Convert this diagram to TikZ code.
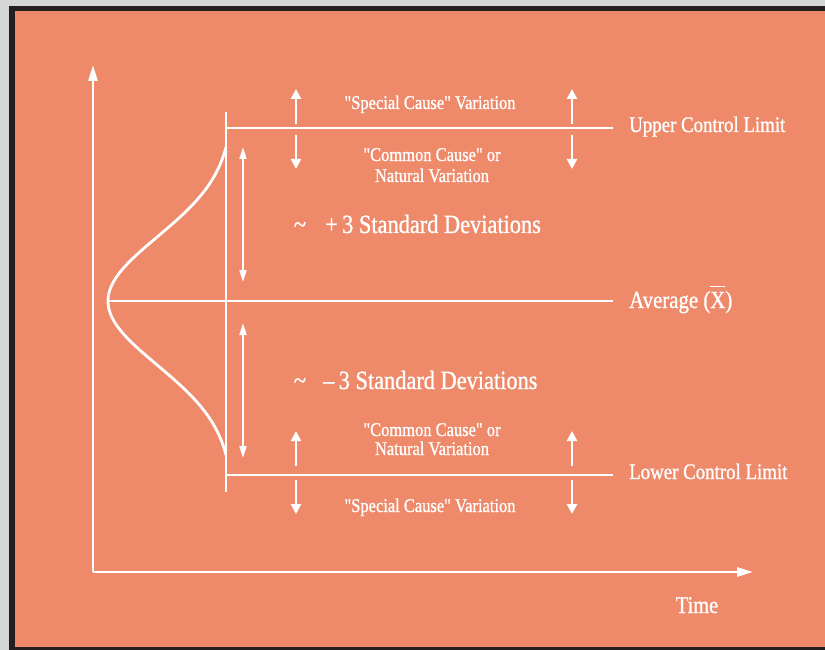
\documentclass[tikz,border=0pt]{standalone}
\usepackage{fontspec}
\setmainfont[FakeStretch=0.85,FakeBold=1.0,Ligatures=TeXOff]{Liberation Serif}
\usetikzlibrary{arrows.meta}
\definecolor{salmon}{RGB}{238,137,106}
\definecolor{framedark}{RGB}{35,31,32}
\definecolor{outer}{RGB}{212,213,215}
\newcommand{\dq}{\symbol{34}}
\newcommand{\xbar}{\vbox{\hrule height 1.8pt\kern 4.5pt\hbox{X}}}
\begin{document}
\begin{tikzpicture}[x=1pt,y=-1pt,
  wline/.style={draw=white,line width=2.8pt},
  axis/.style={wline,-{Triangle[width=9pt,length=16pt]}},
  shortarrow/.style={draw=white,line width=2.8pt,-{Triangle[width=10pt,length=10pt]}},
  spanarrow/.style={draw=white,line width=2pt,{Triangle[width=7pt,length=12pt]}-{Triangle[width=7pt,length=12pt]}},
  lbl/.style={text=white,inner sep=0pt,anchor=base},
  small/.style={lbl,font=\fontsize{19.4}{21}\selectfont},
  large/.style={lbl,font=\fontsize{22.2}{24}\selectfont},
  huge/.style={lbl,font=\fontsize{26.3}{28}\selectfont}]
% page, frame and panel
\fill[outer] (0,0) rectangle (825,650);
\useasboundingbox (0,0) rectangle (825,650);
\fill[framedark] (9,6) rectangle (825,650);
\fill[salmon] (15,11) rectangle (825,647);

% axes
\coordinate (origin) at (93,572);
\coordinate (ytop) at (93,65);
\coordinate (xend) at (753,572);
\draw[axis] (origin) -- (ytop);
\draw[axis] (origin) -- (xend);

% limit lines and average
\coordinate (vtop) at (226,112);
\coordinate (vbot) at (226,492);
\coordinate (uclL) at (226,128);
\coordinate (uclR) at (613,128);
\coordinate (avgL) at (108,301);
\coordinate (avgR) at (613,301);
\coordinate (lclL) at (226,475);
\coordinate (lclR) at (613,475);
\draw[wline] (vtop) -- (vbot);
\draw[wline] (uclL) -- (uclR);
\draw[wline] (avgL) -- (avgR);
\draw[wline] (lclL) -- (lclR);

% normal distribution lying on its side
\draw[wline,line join=round] plot[domain=-154:154,samples=120,smooth]
  ({226-118*(exp(-0.5*(\x/64)*(\x/64))-0.0553)/(1-0.0553)},{301+\x});

% spread arrows
\coordinate (pa1) at (243,147);
\coordinate (pa2) at (243,282);
\coordinate (ma1) at (243,323);
\coordinate (ma2) at (243,458);
\draw[spanarrow] (pa1) -- (pa2);
\draw[spanarrow] (ma1) -- (ma2);

% variation arrows around the limits
\foreach \px/\nm in {296/a,572/b}{
  \coordinate (uu\nm) at (\px,124);
  \coordinate (ut\nm) at (\px,89);
  \coordinate (ud\nm) at (\px,135);
  \coordinate (ub\nm) at (\px,169);
  \draw[shortarrow] (uu\nm) -- (ut\nm);
  \draw[shortarrow] (ud\nm) -- (ub\nm);
  \coordinate (lu\nm) at (\px,466);
  \coordinate (lt\nm) at (\px,431);
  \coordinate (ld\nm) at (\px,480);
  \coordinate (lb\nm) at (\px,514);
  \draw[shortarrow] (lu\nm) -- (lt\nm);
  \draw[shortarrow] (ld\nm) -- (lb\nm);
}

% labels
\node[small] (spTop) at (430,109) {\dq Special Cause\dq{} Variation};
\node[small] (cmTop1) at (432,161) {\dq Common Cause\dq{} or};
\node[small] (cmTop2) at (432,182) {Natural Variation};
\node[huge] (tilP) at (300,233) {\char`\~};
\node[huge,anchor=base west] (sdP) at (325,233) {+\,3 Standard Deviations};
\node[huge] (tilM) at (300,389) {\char`\~};
\node[huge,anchor=base west] (sdM) at (323,389) {–\,3 Standard Deviations};
\node[small] (cmBot1) at (432,436) {\dq Common Cause\dq{} or};
\node[small] (cmBot2) at (432,455) {Natural Variation};
\node[small] (spBot) at (430,512) {\dq Special Cause\dq{} Variation};
\node[large,anchor=base west] (ucl) at (629,132) {Upper Control Limit};
\node[large,anchor=base west,font=\fontsize{24.5}{26}\selectfont] (avg) at (629,308) {Average (\xbar)};
\node[large,anchor=base west] (lcl) at (629,479) {Lower Control Limit};
\node[large,font=\fontsize{24}{26}\selectfont] (time) at (697,613) {Time};
\end{tikzpicture}
\end{document}
